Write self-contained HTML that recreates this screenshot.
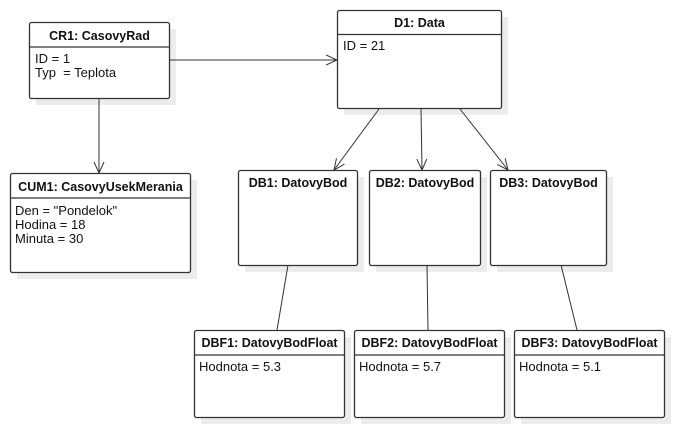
<!DOCTYPE html>
<html><head><meta charset="utf-8"><style>
html,body{margin:0;padding:0;background:#fff;width:674px;height:427px;overflow:hidden}
svg text{font-family:"Liberation Sans",Arial,sans-serif;font-size:13px;fill:#111}
svg text.t{font-weight:bold;font-size:12.5px}
</style></head><body>
<svg width="674" height="427" viewBox="0 0 674 427" xmlns="http://www.w3.org/2000/svg">
<defs>
<marker id="a" viewBox="0 0 12 12" refX="11" refY="6" markerWidth="12" markerHeight="12" markerUnits="userSpaceOnUse" orient="auto">
<path d="M0,1 L11,6 L0,11" fill="none" stroke="#333" stroke-width="1"/>
</marker>
</defs>
<g fill="#ececec">
<rect x="36" y="29" width="140" height="76"/>
<rect x="17" y="180" width="180" height="99"/>
<rect x="344" y="17" width="164" height="98"/>
<rect x="245" y="177" width="119" height="95"/>
<rect x="376" y="177" width="111" height="95"/>
<rect x="497" y="177" width="116" height="95"/>
<rect x="201" y="337" width="150" height="87"/>
<rect x="361" y="337" width="150" height="87"/>
<rect x="521" y="337" width="150" height="87"/>
</g>
<g stroke="#333" stroke-width="1" fill="none">
<line x1="169" y1="60" x2="337" y2="60" marker-end="url(#a)"/>
<line x1="99" y1="98" x2="99" y2="173" marker-end="url(#a)"/>
<line x1="379" y1="109" x2="334" y2="170" marker-end="url(#a)"/>
<line x1="421" y1="109" x2="422" y2="170" marker-end="url(#a)"/>
<line x1="460" y1="109" x2="508" y2="170" marker-end="url(#a)"/>
<line x1="288" y1="265" x2="277" y2="330"/>
<line x1="427" y1="265" x2="428" y2="330"/>
<line x1="561" y1="265" x2="577" y2="330"/>
</g>
<g stroke="#333" stroke-width="1.3" fill="#fff">
<rect x="29.5" y="22.5" width="140" height="76" rx="2"/>
<rect x="10.5" y="173.5" width="180" height="99" rx="2"/>
<rect x="337.5" y="10.5" width="164" height="98" rx="2"/>
<rect x="238.5" y="170.5" width="119" height="95" rx="2"/>
<rect x="369.5" y="170.5" width="111" height="95" rx="2"/>
<rect x="490.5" y="170.5" width="116" height="95" rx="2"/>
<rect x="194.5" y="330.5" width="150" height="87" rx="2"/>
<rect x="354.5" y="330.5" width="150" height="87" rx="2"/>
<rect x="514.5" y="330.5" width="150" height="87" rx="2"/>
</g>
<g stroke="#333" stroke-width="1.3">
<line x1="29.5" y1="47" x2="169.5" y2="47"/>
<line x1="10.5" y1="198" x2="190.5" y2="198"/>
<line x1="337.5" y1="34.5" x2="501.5" y2="34.5"/>
<line x1="194.5" y1="355" x2="344.5" y2="355"/>
<line x1="354.5" y1="355" x2="504.5" y2="355"/>
<line x1="514.5" y1="355" x2="664.5" y2="355"/>
</g>
<text class="t" x="99.5" y="40" text-anchor="middle">CR1: CasovyRad</text>
<text x="35" y="63">ID = 1</text>
<text x="35" y="77">Typ&#160; = Teplota</text>
<text class="t" x="100.5" y="191" text-anchor="middle">CUM1: CasovyUsekMerania</text>
<text x="15" y="215">Den = "Pondelok"</text>
<text x="15" y="229">Hodina = 18</text>
<text x="15" y="243">Minuta = 30</text>
<text class="t" x="419.5" y="27" text-anchor="middle">D1: Data</text>
<text x="343" y="50">ID = 21</text>
<text class="t" x="298" y="187" text-anchor="middle">DB1: DatovyBod</text>
<text class="t" x="425" y="187" text-anchor="middle">DB2: DatovyBod</text>
<text class="t" x="548.5" y="187" text-anchor="middle">DB3: DatovyBod</text>
<text class="t" x="269.5" y="347" text-anchor="middle">DBF1: DatovyBodFloat</text>
<text class="t" x="429.5" y="347" text-anchor="middle">DBF2: DatovyBodFloat</text>
<text class="t" x="589.5" y="347" text-anchor="middle">DBF3: DatovyBodFloat</text>
<text x="199" y="371">Hodnota = 5.3</text>
<text x="359" y="371">Hodnota = 5.7</text>
<text x="519" y="371">Hodnota = 5.1</text>
</svg>
</body></html>
